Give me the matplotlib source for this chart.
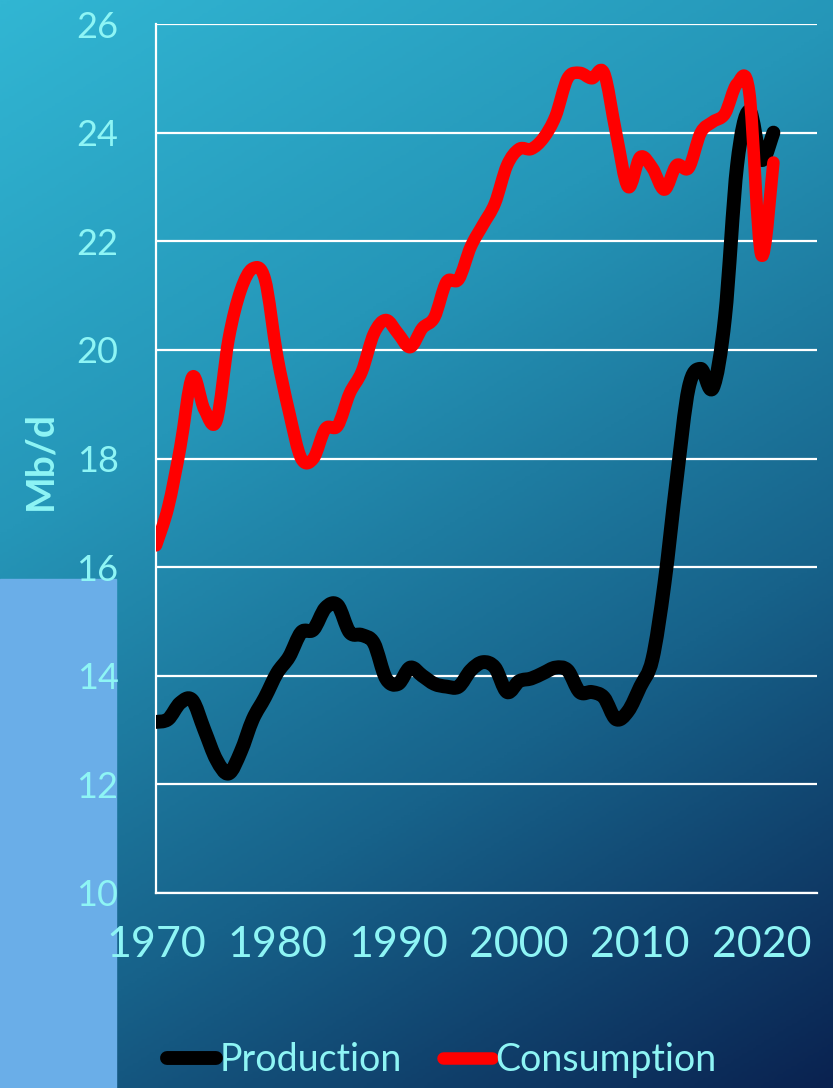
import numpy as np
import matplotlib.pyplot as plt
from matplotlib.path import Path
from matplotlib.patches import PathPatch, Rectangle
from matplotlib.lines import Line2D
from matplotlib.colors import LinearSegmentedColormap

plt.rcParams['font.family'] = ['Lato', 'DejaVu Sans']

# North American oil balance, million barrels per day
years = list(range(1970, 2022))
production = [13.15, 13.2, 13.5, 13.55, 13.0, 12.45, 12.2, 12.6, 13.2, 13.6,
              14.05, 14.35, 14.8, 14.85, 15.25, 15.3, 14.8, 14.75, 14.6, 13.95,
              13.85, 14.15, 14.0, 13.85, 13.8, 13.8, 14.1, 14.25, 14.15, 13.7,
              13.9, 13.95, 14.05, 14.15, 14.1, 13.7, 13.7, 13.6, 13.2, 13.35,
              13.8, 14.3, 15.7, 17.6, 19.3, 19.65, 19.3, 20.6, 23.4, 24.4,
              23.5, 24.0]
consumption = [16.4, 17.1, 18.2, 19.5, 18.9, 18.7, 20.2, 21.1, 21.5, 21.3,
               19.9, 18.85, 18.0, 18.0, 18.55, 18.6, 19.2, 19.6, 20.3, 20.55,
               20.3, 20.05, 20.4, 20.6, 21.25, 21.3, 21.9, 22.3, 22.7, 23.4,
               23.7, 23.7, 23.9, 24.3, 25.0, 25.1, 25.0, 25.1, 24.0, 23.0,
               23.55, 23.35, 22.95, 23.4, 23.35, 24.0, 24.2, 24.35, 24.9, 24.75,
               21.75, 23.45]
y_ticks = [10, 12, 14, 16, 18, 20, 22, 24, 26]
x_ticks = [1970, 1980, 1990, 2000, 2010, 2020]

label_color = '#8ef5f5'


def smooth_path(x, y):
    # Catmull-Rom style bezier segments through the yearly points
    pts = np.column_stack([x, y]).astype(float)
    n = len(pts)
    verts = [pts[0]]
    codes = [Path.MOVETO]
    for i in range(n - 1):
        p0 = pts[max(i - 1, 0)]
        p1 = pts[i]
        p2 = pts[i + 1]
        p3 = pts[min(i + 2, n - 1)]
        c1 = p1 + (p2 - p0) / 6.0
        c2 = p2 - (p3 - p1) / 6.0
        verts += [c1, c2, p2]
        codes += [Path.CURVE4] * 3
    return Path(verts, codes)


fig = plt.figure(figsize=(8.33, 10.88), dpi=100)

# diagonal background gradient
bg = fig.add_axes([0, 0, 1, 1], zorder=-10)
gx, gy = np.meshgrid(np.linspace(0, 1, 300), np.linspace(0, 1, 400))
grad = 0.35 * gx + 0.75 * gy
cmap = LinearSegmentedColormap.from_list(
    'bg', ['#31b6d3', '#2596b8', '#17628a', '#0a2250'])
bg.imshow(grad, cmap=cmap, aspect='auto', extent=[0, 1, 0, 1], origin='upper')
bg.add_patch(Rectangle((0, 0), 116 / 833, 1 - 579 / 1088,
                       color='#6aaee8', transform=bg.transAxes))
bg.set_axis_off()

ax = fig.add_axes([156 / 833, 1 - 893 / 1088, (817 - 156) / 833, (893 - 24) / 1088])
ax.patch.set_alpha(0)

ax.add_patch(PathPatch(smooth_path(years, production), fill=False,
                       edgecolor='black', lw=10, capstyle='round',
                       joinstyle='round', zorder=3))
ax.add_patch(PathPatch(smooth_path(years, consumption), fill=False,
                       edgecolor='#ff0000', lw=9, capstyle='round',
                       joinstyle='round', zorder=4))

ax.set_xlim(1970, 2024.6)
ax.set_ylim(10, 26)
ax.set_yticks(y_ticks)
ax.set_xticks(x_ticks)
ax.yaxis.grid(True, color='white', lw=1.6)
ax.set_axisbelow(True)
for side in ['top', 'right']:
    ax.spines[side].set_visible(False)
for side in ['left', 'bottom']:
    ax.spines[side].set_color('white')
    ax.spines[side].set_linewidth(1.6)
ax.tick_params(axis='y', length=0, pad=27, labelsize=26, labelcolor=label_color)
ax.tick_params(axis='x', length=0, pad=24, labelsize=31, labelcolor=label_color)

fig.text(40 / 833, 1 - 460 / 1088, 'Mb/d', rotation=90, ha='center', va='center',
         fontsize=28, fontweight='bold', color=label_color)

handles = [Line2D([], [], color='black', lw=10, solid_capstyle='round'),
           Line2D([], [], color='#ff0000', lw=9, solid_capstyle='round')]
fig.legend(handles, ['Production', 'Consumption'], loc='center',
           bbox_to_anchor=(442 / 833, 1 - 1060 / 1088), ncol=2, frameon=False,
           fontsize=27, labelcolor=label_color, handlelength=1.3,
           handletextpad=0.1, columnspacing=1.1)

fig.savefig('out.png', dpi=100)
